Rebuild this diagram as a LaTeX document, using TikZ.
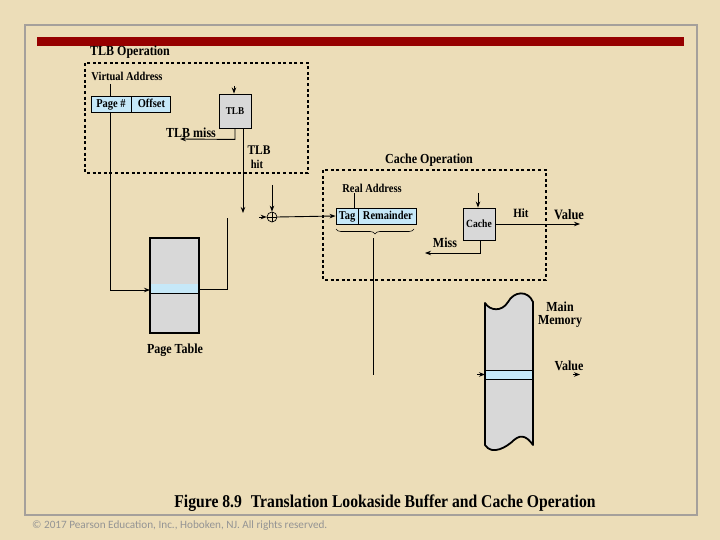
\documentclass[tikz,border=0pt]{standalone}
\usepackage{fontspec}
\setmainfont{Liberation Serif}[FakeStretch=0.87]
\newfontfamily\cpfont{Carlito}
\usetikzlibrary{arrows.meta,decorations.pathreplacing}
\definecolor{parch}{RGB}{236,221,184}
\definecolor{barred}{RGB}{150,0,0}
\definecolor{lblue}{RGB}{198,232,248}
\definecolor{boxgray}{RGB}{216,216,216}
\definecolor{framegray}{RGB}{165,160,155}
\tikzset{
  lbl/.style={inner sep=0pt,font=\fontsize{#1}{#1}\selectfont\bfseries},
  lbl/.default=12,
  dashbox/.style={draw,line width=1.4pt,dash pattern=on 3pt off 2.6pt},
  wire/.style={draw,line width=0.9pt},
  thinwire/.style={draw,line width=0.6pt},
  arr/.style={wire,-{Stealth[length=6pt,width=4.5pt]}},
  graybox/.style={draw,line width=0.9pt,fill=boxgray,inner sep=0pt},
  bluecell/.style={draw,line width=0.9pt,fill=lblue,inner sep=0pt,minimum height=16pt,
    text height=8pt,text depth=1pt,font=\fontsize{12}{12}\selectfont\bfseries}
}
\begin{document}
\begin{tikzpicture}[x=1pt,y=-1pt]
\useasboundingbox (0,0) rectangle (720,540);
\fill[parch] (0,0) rectangle (720,540);
\draw[framegray,line width=1.5pt] (25,25) rectangle (697,515);
\fill[barred] (37,37) rectangle (684,46);

% ---------- TLB operation ----------
\node[lbl=13.8] (tlbop) at (130,52) {TLB Operation};
\draw[dashbox] (85,63) rectangle (308,173);
\node[lbl] (va) at (127,76) {Virtual Address};
\node[bluecell,minimum width=40pt] (page) at (111,104) {Page \#};
\node[bluecell,minimum width=39pt,anchor=west] (offset) at (page.east) {Offset};
\coordinate (vatop) at (110,84);
\draw[wire] (vatop) -- (vatop |- page.north);

\node[graybox,minimum width=32pt,minimum height=34pt] (tlb) at (235,111) {\fontsize{10.5}{10.5}\selectfont\bfseries TLB};
\coordinate (tlbin) at (234,86);
\draw[arr] (tlbin) -- (tlbin |- tlb.north);
\coordinate (missend) at (180,139);
\draw[arr] (tlb.south) -- ++(0,11) -- (missend);
\node[lbl=13.8] (tlbmiss) at (191,133) {TLB miss};
\coordinate (hitend) at (243,213);
\draw[arr] (hitend |- tlb.south) -- (hitend);
\node[lbl=13.2] (tlbhit) at (259,150) {TLB};
\node[lbl=12] (hit) at (257,164) {hit};

% ---------- page table ----------
\node[draw,line width=2pt,fill=boxgray,minimum width=49pt,minimum height=95pt,inner sep=0pt] (pt) at (174.5,285.5) {};
\fill[lblue] (151,284) rectangle (198,293);
\draw[line width=1pt] (151,293.5) -- (198,293.5);
\node[lbl=13.8] (ptlbl) at (175,350) {Page Table};
\coordinate (ptin) at (150,290);
\draw[arr] (110,112) -- (110,290) -- (ptin);
\coordinate (ptup) at (227,218);
\draw[thinwire] (199,289) -- (227,289) -- (ptup);

% ---------- adder ----------
\node[draw,circle,line width=0.7pt,minimum size=10pt,inner sep=0pt] (plus) at (272,217) {};
\draw[line width=0.6pt] (plus.north) -- (plus.south) (plus.west) -- (plus.east);
\coordinate (plustop) at (272,185);
\draw[arr] (plustop) -- (plus.north);
\coordinate (plusleft) at (259,217);
\draw[arr] (plusleft) -- (plus.west);

% ---------- cache operation ----------
\node[lbl=13.8] (cacheop) at (429,160) {Cache Operation};
\draw[dashbox] (323,170) rectangle (546,280);
\node[lbl] (ra) at (372,188) {Real Address};
\node[bluecell,minimum width=22pt] (tag) at (347,216) {Tag};
\node[bluecell,minimum width=58pt,anchor=west] (rem) at (tag.east) {Remainder};
\draw[arr] (plus.east) -- (tag.west);
\coordinate (ratop) at (354,193);
\draw[wire] (ratop) -- (ratop |- tag.north);
\draw[line width=0.6pt,decorate,decoration={brace,mirror,amplitude=5pt}] (336,229) -- (414,229);
\coordinate (braceend) at (373,375);
\draw[line width=0.9pt] (373,238) -- (braceend);

\node[graybox,minimum width=32pt,minimum height=32pt] (cache) at (479,224) {\fontsize{11}{11}\selectfont\bfseries Cache};
\coordinate (cachein) at (478,193);
\draw[arr] (cachein) -- (cachein |- cache.north);
\coordinate (valend) at (580,224);
\draw[arr] (cache.east) -- (valend);
\node[lbl=12.6] (hitl) at (521,213) {Hit};
\node[lbl=14.3] (val1) at (569,215) {Value};
\coordinate (missend2) at (425,253);
\draw[arr] (480,240) -- (480,253) -- (missend2);
\node[lbl=13.8] (miss) at (445,243) {Miss};

% ---------- main memory ----------
\draw[line width=1.8pt,fill=boxgray,line join=round]
  (485,303) .. controls (490,311) and (502,312) .. (508,302)
  .. controls (514,291) and (528,290) .. (533,302)
  -- (533,445)
  .. controls (528,438) and (522,433) .. (514,440)
  .. controls (507,447) and (492,456) .. (485,445) -- cycle;
\fill[lblue] (486,370) rectangle (532,379);
\draw[line width=0.9pt] (486,370) -- (532,370) (486,379) -- (532,379);
\node[lbl=13.8,align=center] (mm) at (560,315) {Main\\[-1pt]Memory};
\node[lbl=13.8] (val2) at (569,366) {Value};
\coordinate (mmin) at (477,374.5);
\coordinate (mmedge) at (485,374.5);
\draw[arr] (mmin) -- (mmedge);
\coordinate (v2a) at (573,374.5);
\coordinate (v2b) at (580,374.5);
\draw[arr] (v2a) -- (v2b);

% ---------- caption ----------
\node[lbl=18] (caption) at (385,503) {Figure 8.9\hspace{0.5em}Translation Lookaside Buffer and Cache Operation};
\node[anchor=west,inner sep=0pt,text=black!42,font=\cpfont\fontsize{11.2}{11.2}\selectfont] (copy) at (32,526) {© 2017 Pearson Education, Inc., Hoboken, NJ. All rights reserved.};
\end{tikzpicture}
\end{document}
